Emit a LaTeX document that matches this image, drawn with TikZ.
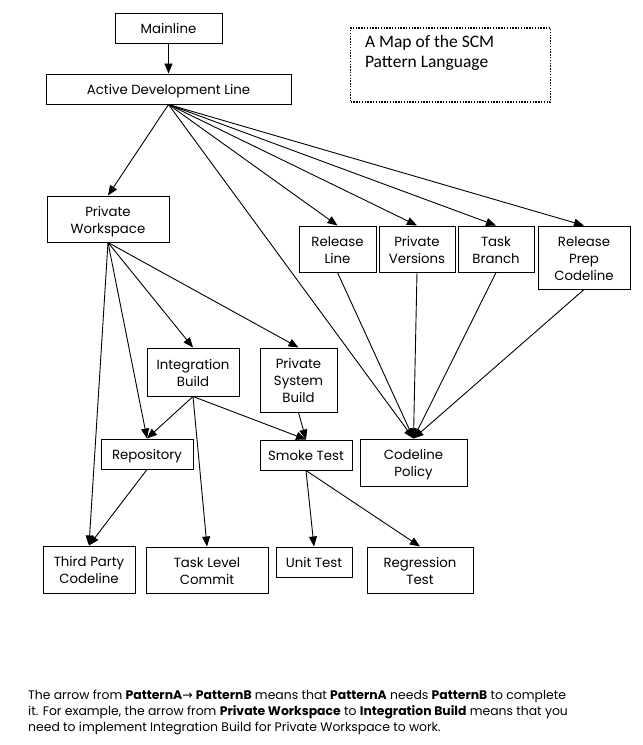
\documentclass[tikz,border=0pt]{standalone}
\usepackage{fontspec}
\setmainfont{Poppins}
\newfontfamily\titlefont{Carlito}
\newfontfamily\symfont{DejaVu Sans}
\usetikzlibrary{arrows.meta}
\newcommand{\bxt}[1]{\raisebox{0pt}[\dimexpr\height+5pt\relax][\depth]{\begin{tabular}{@{}c@{}}#1\end{tabular}}}
\begin{document}
\begin{tikzpicture}[x=1pt,y=-1pt,
 box/.style={draw, line width=1pt, inner sep=0pt, font=\fontsize{13.3}{17}\selectfont},
 arr/.style={line width=0.9pt, -{Triangle[length=10pt,width=8pt]}},
 captext/.style={anchor=base west, inner sep=0pt, font=\fontsize{12.4}{16}\selectfont}]
\useasboundingbox[fill=white] (0,0) rectangle (643,745);
% boxes
\node[box, minimum width=107, minimum height=30] (ml) at (168.5,28) {\bxt{Mainline}};
\node[box, minimum width=245, minimum height=30] (adl) at (168.5,89) {\bxt{Active Development Line}};
\node[box, minimum width=122, minimum height=46] (pw) at (108,219) {\bxt{Private\\Workspace}};
\node[box, minimum width=77, minimum height=46] (rl) at (337.5,249) {\bxt{Release\\Line}};
\node[box, minimum width=76, minimum height=46] (pv) at (417,249) {\bxt{Private\\Versions}};
\node[box, minimum width=76, minimum height=46] (tb) at (496,249) {\bxt{Task\\Branch}};
\node[box, minimum width=92, minimum height=63] (rpc) at (584,257.5) {\bxt{Release\\Prep\\Codeline}};
\node[box, minimum width=92, minimum height=48] (ib) at (193,372) {\bxt{Integration\\Build}};
\node[box, minimum width=77, minimum height=64] (psb) at (298.5,380) {\bxt{Private\\System\\Build}};
\node[box, minimum width=92, minimum height=30] (repo) at (147,454) {\bxt{Repository}};
\node[box, minimum width=92, minimum height=30] (smoke) at (306,455) {\bxt{Smoke Test}};
\node[box, minimum width=107, minimum height=47] (cp) at (413.5,462.5) {\bxt{Codeline\\Policy}};
\node[box, minimum width=92, minimum height=47] (tpc) at (89,569.5) {\bxt{Third Party\\Codeline}};
\node[box, minimum width=122, minimum height=46] (tlc) at (207,570) {\bxt{Task Level\\Commit}};
\node[box, minimum width=76, minimum height=30] (ut) at (314,562) {\bxt{Unit Test}};
\node[box, minimum width=106, minimum height=46] (rt) at (420,570) {\bxt{Regression\\Test}};
% title box
\node[draw, line width=1.4pt, dash pattern=on 1.4pt off 1.4pt, minimum width=200, minimum height=74, inner sep=0pt] (tbox) at (450.5,65) {};
\node[anchor=north west, inner sep=0pt, align=left, font=\titlefont\fontsize{17.5}{20}\selectfont] (ttext) at ([shift={(15,8)}]tbox.north west) {A Map of the SCM\\Pattern Language};
% arrows
\draw[arr] (ml.south) -- (adl.north);
\draw[arr] (adl.south) -- (pw.north);
\draw[arr] (adl.south) -- (rl.north);
\draw[arr] (adl.south) -- (pv.north);
\draw[arr] (adl.south) -- (tb.north);
\draw[arr] (adl.south) -- (rpc.north);
\draw[arr] (adl.south) -- (cp.north);
\draw[arr] (rl.south) -- (cp.north);
\draw[arr] (pv.south) -- (cp.north);
\draw[arr] (tb.south) -- (cp.north);
\draw[arr] (rpc.south) -- (cp.north);
\draw[arr] (pw.south) -- (tpc.north);
\draw[arr] (pw.south) -- (repo.north);
\draw[arr] (pw.south) -- (ib.north);
\draw[arr] (pw.south) -- (psb.north);
\draw[arr] (ib.south) -- (repo.north);
\draw[arr] (ib.south) -- (tlc.north);
\draw[arr] (ib.south) -- (smoke.north);
\draw[arr] (psb.south) -- (smoke.north);
\draw[arr] (repo.south) -- (tpc.north);
\draw[arr] (smoke.south) -- (ut.north);
\draw[arr] (smoke.south) -- (rt.north);
% caption
\node[captext] (c1) at (28,699) {The arrow from \textbf{PatternA}{\symfont→} \textbf{PatternB} means that \textbf{PatternA} needs \textbf{PatternB} to complete};
\node[captext] (c2) at (28,715) {it. For example, the arrow from \textbf{Private Workspace} to \textbf{Integration Build} means that you};
\node[captext] (c3) at (28,731) {need to implement Integration Build for Private Workspace to work.};
\end{tikzpicture}
\end{document}
